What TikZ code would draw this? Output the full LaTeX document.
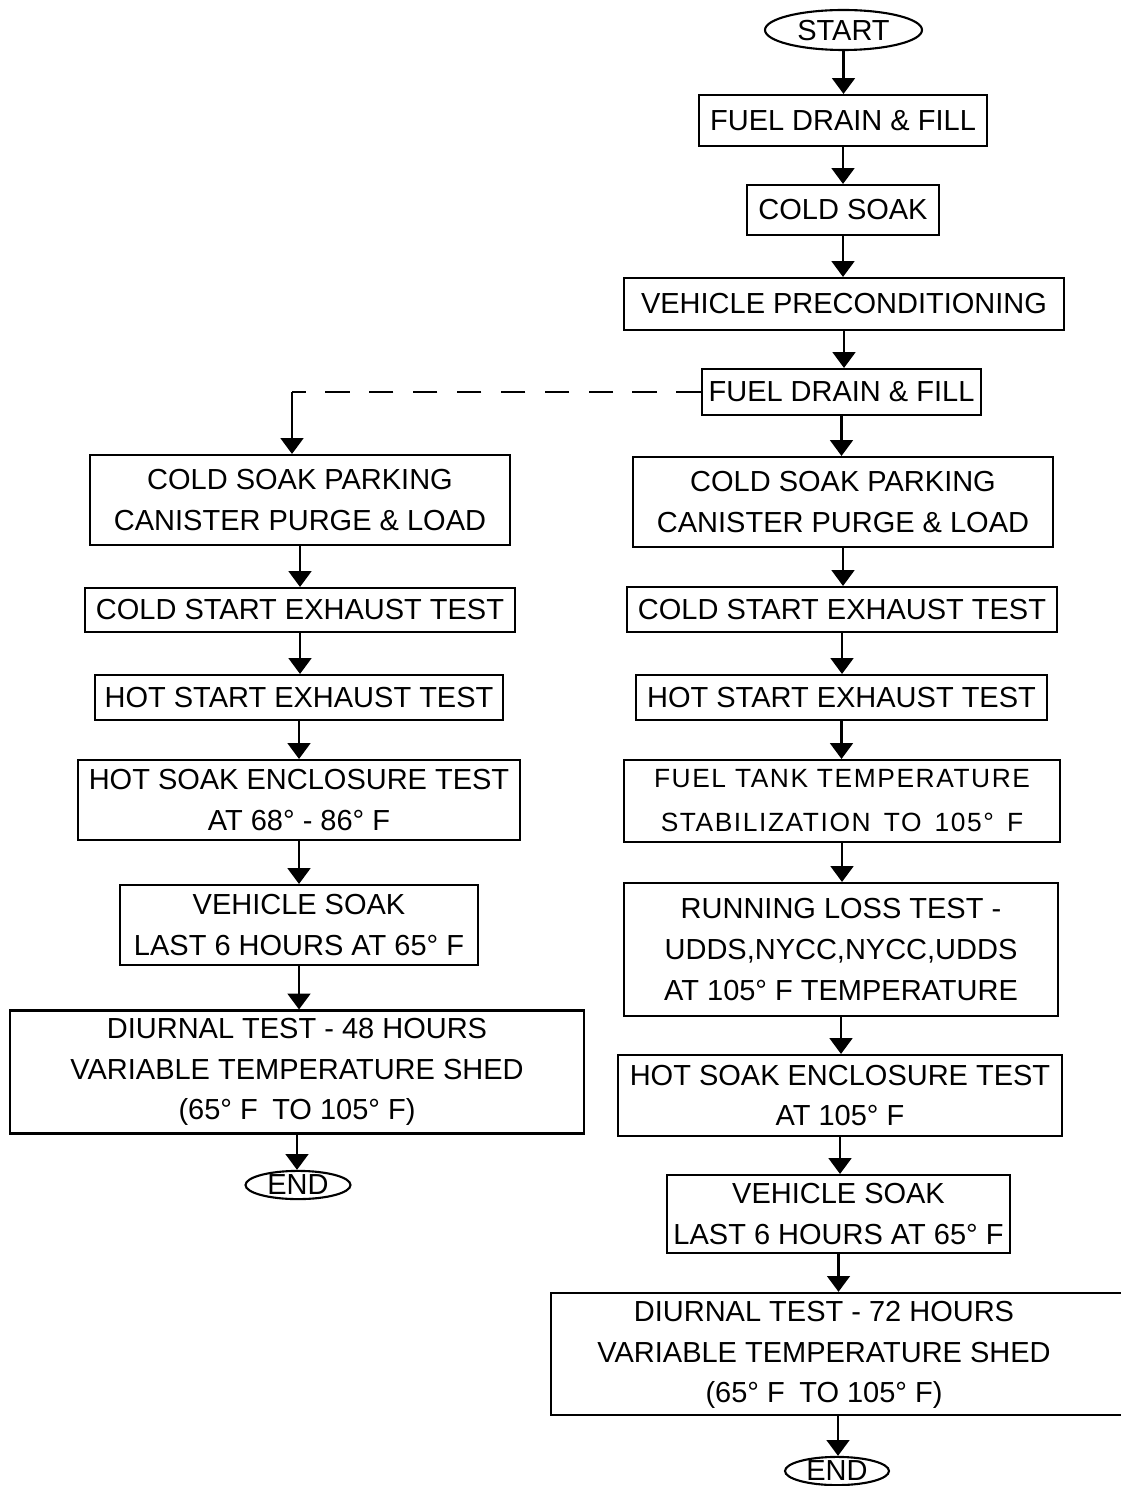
\documentclass[tikz,border=0pt]{standalone}
\usepackage{fontspec}
\setmainfont{Liberation Sans}
\newfontfamily\spacedfont[LetterSpace=6]{Liberation Sans}
\usetikzlibrary{shapes.geometric,arrows.meta}
\tikzset{
  font={\fontsize{16.5pt}{23.2pt}\selectfont}}
\tikzset{
  stepbox/.style 2 args={draw, line width=1.2pt, align=center, inner sep=0pt,
    minimum width=#1*0.02cm, minimum height=#2*0.02cm},
  term/.style 2 args={draw, ellipse, line width=1.2pt, inner sep=0pt, text depth=0pt,
    minimum width=#1*0.02cm, minimum height=#2*0.02cm},
  flow/.style={line width=1.2pt, -{Triangle[width=13pt,length=9pt]}},
  dashline/.style={line width=1.2pt, dash pattern=on 14pt off 11pt}}

\begin{document}
\begin{tikzpicture}[x=0.02cm,y=-0.02cm]
\useasboundingbox (0,0) rectangle (1121,1486);
\node [term={157}{40}] (start) at (843.5,30) {START};
\node [stepbox={288}{51}] (fdfa) at (843,120.5) {FUEL DRAIN \& FILL};
\node [stepbox={192}{50}] (cs) at (843,210) {COLD SOAK};
\node [stepbox={440}{52}] (vp) at (844,304) {VEHICLE PRECONDITIONING};
\node [stepbox={279}{46}] (fdfb) at (841.5,392) {FUEL DRAIN \& FILL};
\node [stepbox={420}{90}] (rcsp) at (843,502) {COLD SOAK PARKING\\CANISTER PURGE \& LOAD};
\node [stepbox={430}{45}] (rcse) at (842,609.5) {COLD START EXHAUST TEST};
\node [stepbox={411}{45}] (rhse) at (841.5,697.5) {HOT START EXHAUST TEST};
\node [stepbox={436}{82}, font={\spacedfont\fontsize{15pt}{25pt}\selectfont}] (rft) at (842,801)
  {FUEL TANK TEMPERATURE\\STABILIZATION\enspace TO\enspace 105°\enspace F};
\node [stepbox={434}{133}] (rrl) at (841,949.5) {RUNNING LOSS TEST -\\UDDS,NYCC,NYCC,UDDS\\AT 105° F TEMPERATURE};
\node [stepbox={444}{81}] (rhs) at (840,1095.5) {HOT SOAK ENCLOSURE TEST\\AT 105° F};
\node [stepbox={343}{78}] (rvs) at (838.5,1214) {VEHICLE SOAK\\LAST 6 HOURS AT 65° F};
\node [stepbox={574}{122}] (rdt) at (838,1354)
  {\begin{tabular}{@{}c@{\hspace{0.56cm}}}DIURNAL TEST - 72 HOURS\\VARIABLE TEMPERATURE SHED\\(65° F\enspace TO 105° F)\end{tabular}};
\node [term={104}{26}] (rend) at (837,1471) {END};
\node [stepbox={420}{90}] (lcsp) at (300,500) {COLD SOAK PARKING\\CANISTER PURGE \& LOAD};
\node [stepbox={430}{44}] (lcse) at (300,610) {COLD START EXHAUST TEST};
\node [stepbox={408}{45}] (lhse) at (299,697.5) {HOT START EXHAUST TEST};
\node [stepbox={442}{80}] (lhs) at (299,800) {HOT SOAK ENCLOSURE TEST\\AT 68° - 86° F};
\node [stepbox={358}{80}] (lvs) at (299,925) {VEHICLE SOAK\\LAST 6 HOURS AT 65° F};
\node [stepbox={574}{123}] (ldt) at (297,1072) {DIURNAL TEST - 48 HOURS\\VARIABLE TEMPERATURE SHED\\(65° F\enspace TO 105° F)};
\node [term={105}{26}] (lend) at (298,1185) {END};
\coordinate (split) at (292,392);
\foreach \a/\b in {start/fdfa, fdfa/cs, cs/vp, vp/fdfb, fdfb/rcsp, rcsp/rcse, rcse/rhse,
  rhse/rft, rft/rrl, rrl/rhs, rhs/rvs, rvs/rdt, rdt/rend,
  lcsp/lcse, lcse/lhse, lhse/lhs, lhs/lvs, lvs/ldt, ldt/lend}
  \draw [flow] (\a) -- (\a |- \b.north);
\draw [dashline] (fdfb.west) -- (split);
\draw [flow] (split) -- (split |- lcsp.north);
\end{tikzpicture}
\end{document}
